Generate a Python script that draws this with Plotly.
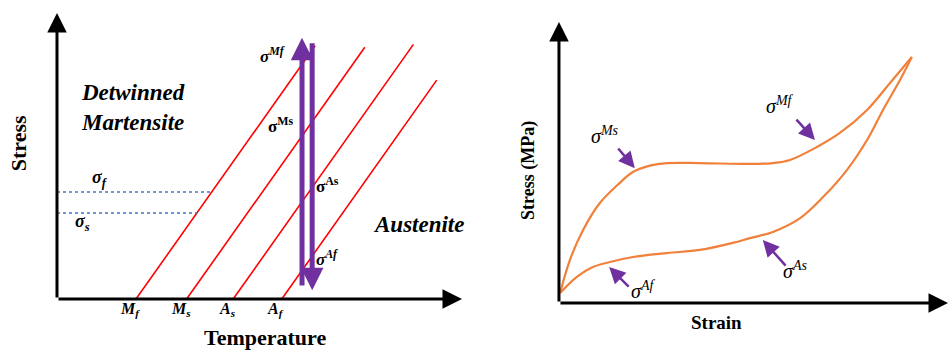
import plotly.graph_objects as go

# ---------------- Left panel: phase diagram (stress vs temperature) ----------------
transition_names = ["M<sub>f</sub>", "M<sub>s</sub>", "A<sub>s</sub>", "A<sub>f</sub>"]
transition_temps = [19.5, 32.0, 43.5, 55.5]       # where each line meets the temperature axis
line_top_stress = [88.5, 88.0, 89.0, 76.5]        # stress at the upper end of each line
clausius_slope = 2.0                               # stress per unit temperature
sigma_levels = [37.4, 30.1]                        # sigma_f, sigma_s
sigma_names = ["σ<sub>f</sub>", "σ<sub>s</sub>"]
load_path_temps = [60.5, 63.0]                     # up / down purple arrows
load_path_stress = [[4.2, 91.3], [89.9, 3.1]]      # [tail, head]

# ---------------- Right panel: superelastic stress-strain loop ----------------
load_strain = [0.3, 2.8, 6.2, 10.5, 14.9, 19.0, 23.4, 27.8, 36.2, 49.1, 55.0, 59.4, 66.3, 72.2, 79.2, 85.1, 90.7]
load_stress = [3.6, 15.3, 26.0, 35.6, 41.8, 46.6, 48.9, 49.8, 49.8, 49.5, 49.8, 50.9, 55.5, 60.5, 68.7, 78.3, 87.5]
unload_strain = [0.3, 4.6, 8.7, 13.1, 19.0, 27.8, 36.2, 44.7, 49.1, 55.0, 62.0, 67.9, 74.0, 79.2, 83.3, 87.7, 90.7]
unload_stress = [3.6, 9.3, 12.8, 14.6, 16.4, 17.8, 18.9, 21.4, 23.1, 25.3, 30.2, 37.7, 47.3, 58.0, 68.7, 79.4, 87.5]

RED = "#ff0000"
PURPLE = "#7030a0"
ORANGE = "#f0803a"
BLUE = "#4a72c8"
SERIF = "Liberation Serif"

fig = go.Figure()

# red transformation lines
for t0, stop in zip(transition_temps, line_top_stress):
    fig.add_trace(go.Scatter(
        x=[t0, t0 + stop / clausius_slope], y=[0, stop],
        mode="lines", line=dict(color=RED, width=1.6),
        xaxis="x", yaxis="y", hoverinfo="skip", showlegend=False))

# blue dotted sigma levels (end on the Mf line)
for s in sigma_levels:
    fig.add_trace(go.Scatter(
        x=[0, transition_temps[0] + s / clausius_slope], y=[s, s],
        mode="lines", line=dict(color=BLUE, width=1.5, dash="dot"),
        xaxis="x", yaxis="y", hoverinfo="skip", showlegend=False))

# right loop curves
fig.add_trace(go.Scatter(x=load_strain, y=load_stress, mode="lines",
                         line=dict(color=ORANGE, width=2.2, shape="spline", smoothing=1.0),
                         xaxis="x2", yaxis="y2", hoverinfo="skip", showlegend=False))
fig.add_trace(go.Scatter(x=unload_strain, y=unload_stress, mode="lines",
                         line=dict(color=ORANGE, width=2.2, shape="spline", smoothing=1.0),
                         xaxis="x2", yaxis="y2", hoverinfo="skip", showlegend=False))

ann = []

def arrow(xref, yref, tail, head, color, width, size):
    ann.append(dict(x=head[0], y=head[1], ax=tail[0], ay=tail[1],
                    xref=xref, yref=yref, axref=xref, ayref=yref,
                    showarrow=True, arrowhead=2, arrowsize=size, arrowwidth=width,
                    arrowcolor=color, standoff=0, startstandoff=0, text=""))

def label(xref, yref, x, y, text, size, bold=False, italic=False, angle=0, xshift=0):
    t = text
    if bold:
        t = "<b>" + t + "</b>"
    if italic:
        t = "<i>" + t + "</i>"
    ann.append(dict(x=x, y=y, xref=xref, yref=yref, text=t, showarrow=False,
                    textangle=angle, xshift=xshift,
                    font=dict(family=SERIF, size=size, color="black")))

# ---- left axes (arrows)
arrow("x", "y", (0, 0), (100, 0), "black", 3, 1.3)
arrow("x", "y", (0, 0), (0, 100), "black", 3, 1.3)
# purple loading path
for t, (s0, s1) in zip(load_path_temps, load_path_stress):
    arrow("x", "y", (t, s0), (t, s1), PURPLE, 5, 0.9)

# left texts
for name, t in zip(transition_names, transition_temps):
    label("x", "y", t, -3.8, name, 16, bold=True, italic=True, xshift=-6)
label("x", "y", 10.6, 42.3, sigma_names[0], 18, bold=True, italic=True)
label("x", "y", 6.2, 26.9, sigma_names[1], 18, bold=True, italic=True)
label("x", "y", 53.3, 85.3, "σ<sup>Mf</sup>", 17, bold=True, italic=True)
label("x", "y", 55.1, 60.8, "σ<sup>Ms</sup>", 17, bold=True)
label("x", "y", 66.7, 39.9, "σ<sup>As</sup>", 17, bold=True)
label("x", "y", 66.7, 14.3, "σ<sup>Af</sup>", 17, bold=True, italic=True)
label("x", "y", 18.8, 67.1, "Detwinned<br>Martensite", 23, bold=True, italic=True)
label("x", "y", 89.2, 25.9, "Austenite", 23, bold=True, italic=True)
label("x", "y", -9.6, 54.5, "Stress", 22, bold=True, angle=-90)
label("x", "y", 51.4, -13.3, "Temperature", 22, bold=True)

# ---- right axes (arrows)
arrow("x2", "y2", (0, 0), (100, 0), "black", 3, 1.3)
arrow("x2", "y2", (0, 0), (0, 100), "black", 3, 1.3)
# purple pointer arrows: (tail, head)
arrow("x2", "y2", (14.9, 55.5), (19.5, 48.0), PURPLE, 2.5, 1.3)
arrow("x2", "y2", (60.7, 65.8), (65.8, 58.0), PURPLE, 2.5, 1.3)
arrow("x2", "y2", (58.6, 12.8), (52.4, 22.4), PURPLE, 2.5, 1.3)
arrow("x2", "y2", (18.3, 5.3), (12.9, 12.8), PURPLE, 2.5, 1.3)
label("x2", "y2", 11.8, 59.8, "σ<sup>Ms</sup>", 20, italic=True)
label("x2", "y2", 56.8, 70.5, "σ<sup>Mf</sup>", 20, italic=True)
label("x2", "y2", 60.7, 11.7, "σ<sup>As</sup>", 20, italic=True)
label("x2", "y2", 21.6, 4.6, "σ<sup>Af</sup>", 20, italic=True)
label("x2", "y2", -8.0, 47.3, "Stress (MPa)", 18, bold=True, angle=-90)
label("x2", "y2", 40.6, -6.8, "Strain", 19, bold=True)

W, H = 949, 352
hidden = dict(visible=False, showgrid=False, zeroline=False, fixedrange=True)
fig.update_layout(
    width=W, height=H, margin=dict(l=0, r=0, t=0, b=0),
    paper_bgcolor="white", plot_bgcolor="white", showlegend=False,
    font=dict(family=SERIF),
    xaxis=dict(domain=[0, 480 / W], range=[-14.07, 104.44], **hidden),
    yaxis=dict(domain=[0, 1], range=[-18.5, 104.5], **hidden),
    xaxis2=dict(domain=[480 / W, 1], range=[-20.3, 100.26], anchor="y2", **hidden),
    yaxis2=dict(domain=[0, 1], range=[-17.4, 107.8], anchor="x2", **hidden),
    annotations=ann,
)

fig.write_html("out.html")
